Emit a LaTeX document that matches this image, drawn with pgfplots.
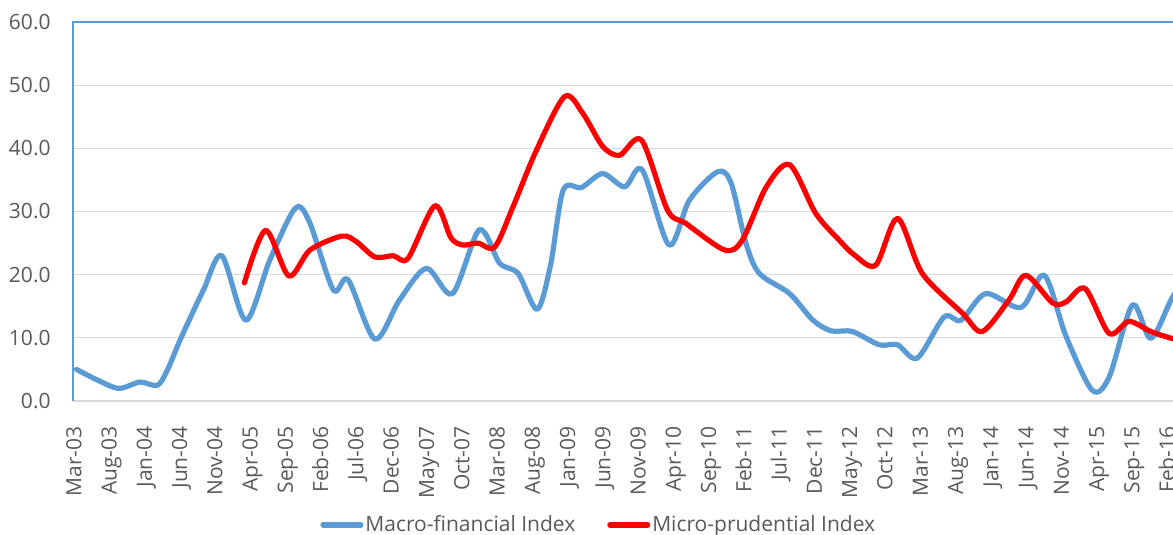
\documentclass[border=0pt]{standalone}
\usepackage{fontspec}
\setmainfont{Open Sans}
\usepackage{pgfplots}
\pgfplotsset{compat=1.18}
\definecolor{mblue}{HTML}{5B9BD5}
\definecolor{mred}{HTML}{FF0000}
\definecolor{lbl}{HTML}{595959}
\definecolor{gridc}{HTML}{D9D9D9}
\begin{document}
\begin{tikzpicture}
\begin{axis}[
  scale only axis,
  width=550pt, height=189.5pt,
  xmin=-0.5, xmax=155.45,
  ymin=0, ymax=60,
  ytick={0,10,...,60},
  xtick={0,5,...,155},
  xticklabels={Mar-03,Aug-03,Jan-04,Jun-04,Nov-04,Apr-05,Sep-05,Feb-06,Jul-06,Dec-06,May-07,Oct-07,Mar-08,Aug-08,Jan-09,Jun-09,Nov-09,Apr-10,Sep-10,Feb-11,Jul-11,Dec-11,May-12,Oct-12,Mar-13,Aug-13,Jan-14,Jun-14,Nov-14,Apr-15,Sep-15,Feb-16},
  axis line style={draw=none},
  major tick length=0pt,
  ymajorgrids,
  grid style={gridc, line width=0.6pt},
  /pgf/number format/assume math mode=true,
  yticklabel={\pgfmathprintnumber[fixed,fixed zerofill,precision=1]{\tick}},
  yticklabel style={font=\fontsize{10.5}{12}\selectfont, text=lbl, inner sep=0pt, xshift=-11pt, anchor=east},
  xticklabel style={font=\fontsize{10.5}{12}\selectfont, text=lbl, inner sep=0pt, yshift=-12.5pt, rotate=90, anchor=east},
  typeset ticklabels with strut,
  clip mode=individual,
  legend columns=-1,
  legend style={at={(0.478,-0.327)}, anchor=center, draw=none, fill=none,
    font=\fontsize{10.5}{12}\selectfont, text=lbl, inner sep=0pt,
    nodes={inner sep=1pt},
    /tikz/every even column/.append style={column sep=15pt}},
  legend image code/.code={\draw[#1] (1.3pt,0pt) -- (20.2pt,0pt);},
]
\addplot[mblue, line width=2.6pt, line cap=round, line join=round, smooth, tension=0.5] coordinates {
(0,5.0) (3,3.3) (6,2.0) (9,3.0) (11.5,2.5) (13,5.2) (14.7,9.7) (18,17.6)
(20.6,23.0) (24,12.8) (27.4,22.3) (31,30.5) (33,28.4) (36.4,17.6) (38.5,19.2)
(42.3,9.8) (45.8,16.0) (49.6,21.0) (53.3,17.0) (57.1,27.1) (60,21.8) (62.6,20.2)
(65.3,14.5) (67.2,21.5) (69,33.4) (71.6,33.8) (74.6,36.0) (77.7,33.9) (80.2,36.6)
(84,24.7) (86.9,31.8) (90.9,36.3) (92.8,34.5) (94.9,25.0) (96.8,20.2) (101.1,17.0)
(104.4,12.8) (107,11.1) (110,11.0) (113.8,8.9) (116.4,8.9) (119.2,6.8) (123,13.3)
(125.4,12.8) (128.9,17.0) (133.9,14.8) (137.2,19.9) (140.3,10.2) (144,1.7)
(146.4,3.8) (149.7,15.2) (152.3,9.9) (155.3,16.3) (157,19.0)
};
\addlegendentry{Macro-financial Index}
\addplot[mred, line width=2.6pt, line cap=round, line join=round, smooth, tension=0.5] coordinates {
(23.8,18.7) (26.8,27.0) (30.1,19.8) (33.1,23.9) (37.6,26.1) (39.7,25.2) (42.3,22.8)
(44.9,23.0) (47,22.6) (50.8,30.9) (53.1,25.8) (54.8,24.7) (56.9,25.0) (59.3,24.4)
(61.9,30.8) (65.2,39.7) (69.2,48.2) (71.8,45.5) (74.6,40.3) (77,38.9) (80.1,41.3)
(83.8,30.2) (86.4,28.1) (91.9,23.9) (94.4,25.5) (97.8,33.9) (101.1,37.4)
(104.8,29.7) (108.1,25.5) (110.3,23.1) (113.3,21.5) (116.4,28.9) (119.9,20.2)
(125.6,13.9) (128.4,11.0) (132.2,16.0) (134.6,19.9) (138.4,15.5) (140.3,15.7)
(143,17.8) (146.4,10.7) (149.2,12.6) (152.3,11.0) (155.3,9.9) (157,9.5)
};
\addlegendentry{Micro-prudential Index}
\draw[mblue, line width=0.6pt] (rel axis cs:0,0) -- (rel axis cs:0,1) -- (rel axis cs:1,1);
\end{axis}
\pgfresetboundingbox
\useasboundingbox (-36.5pt,-67pt) rectangle (550pt,200.5pt);
\end{tikzpicture}
\end{document}
